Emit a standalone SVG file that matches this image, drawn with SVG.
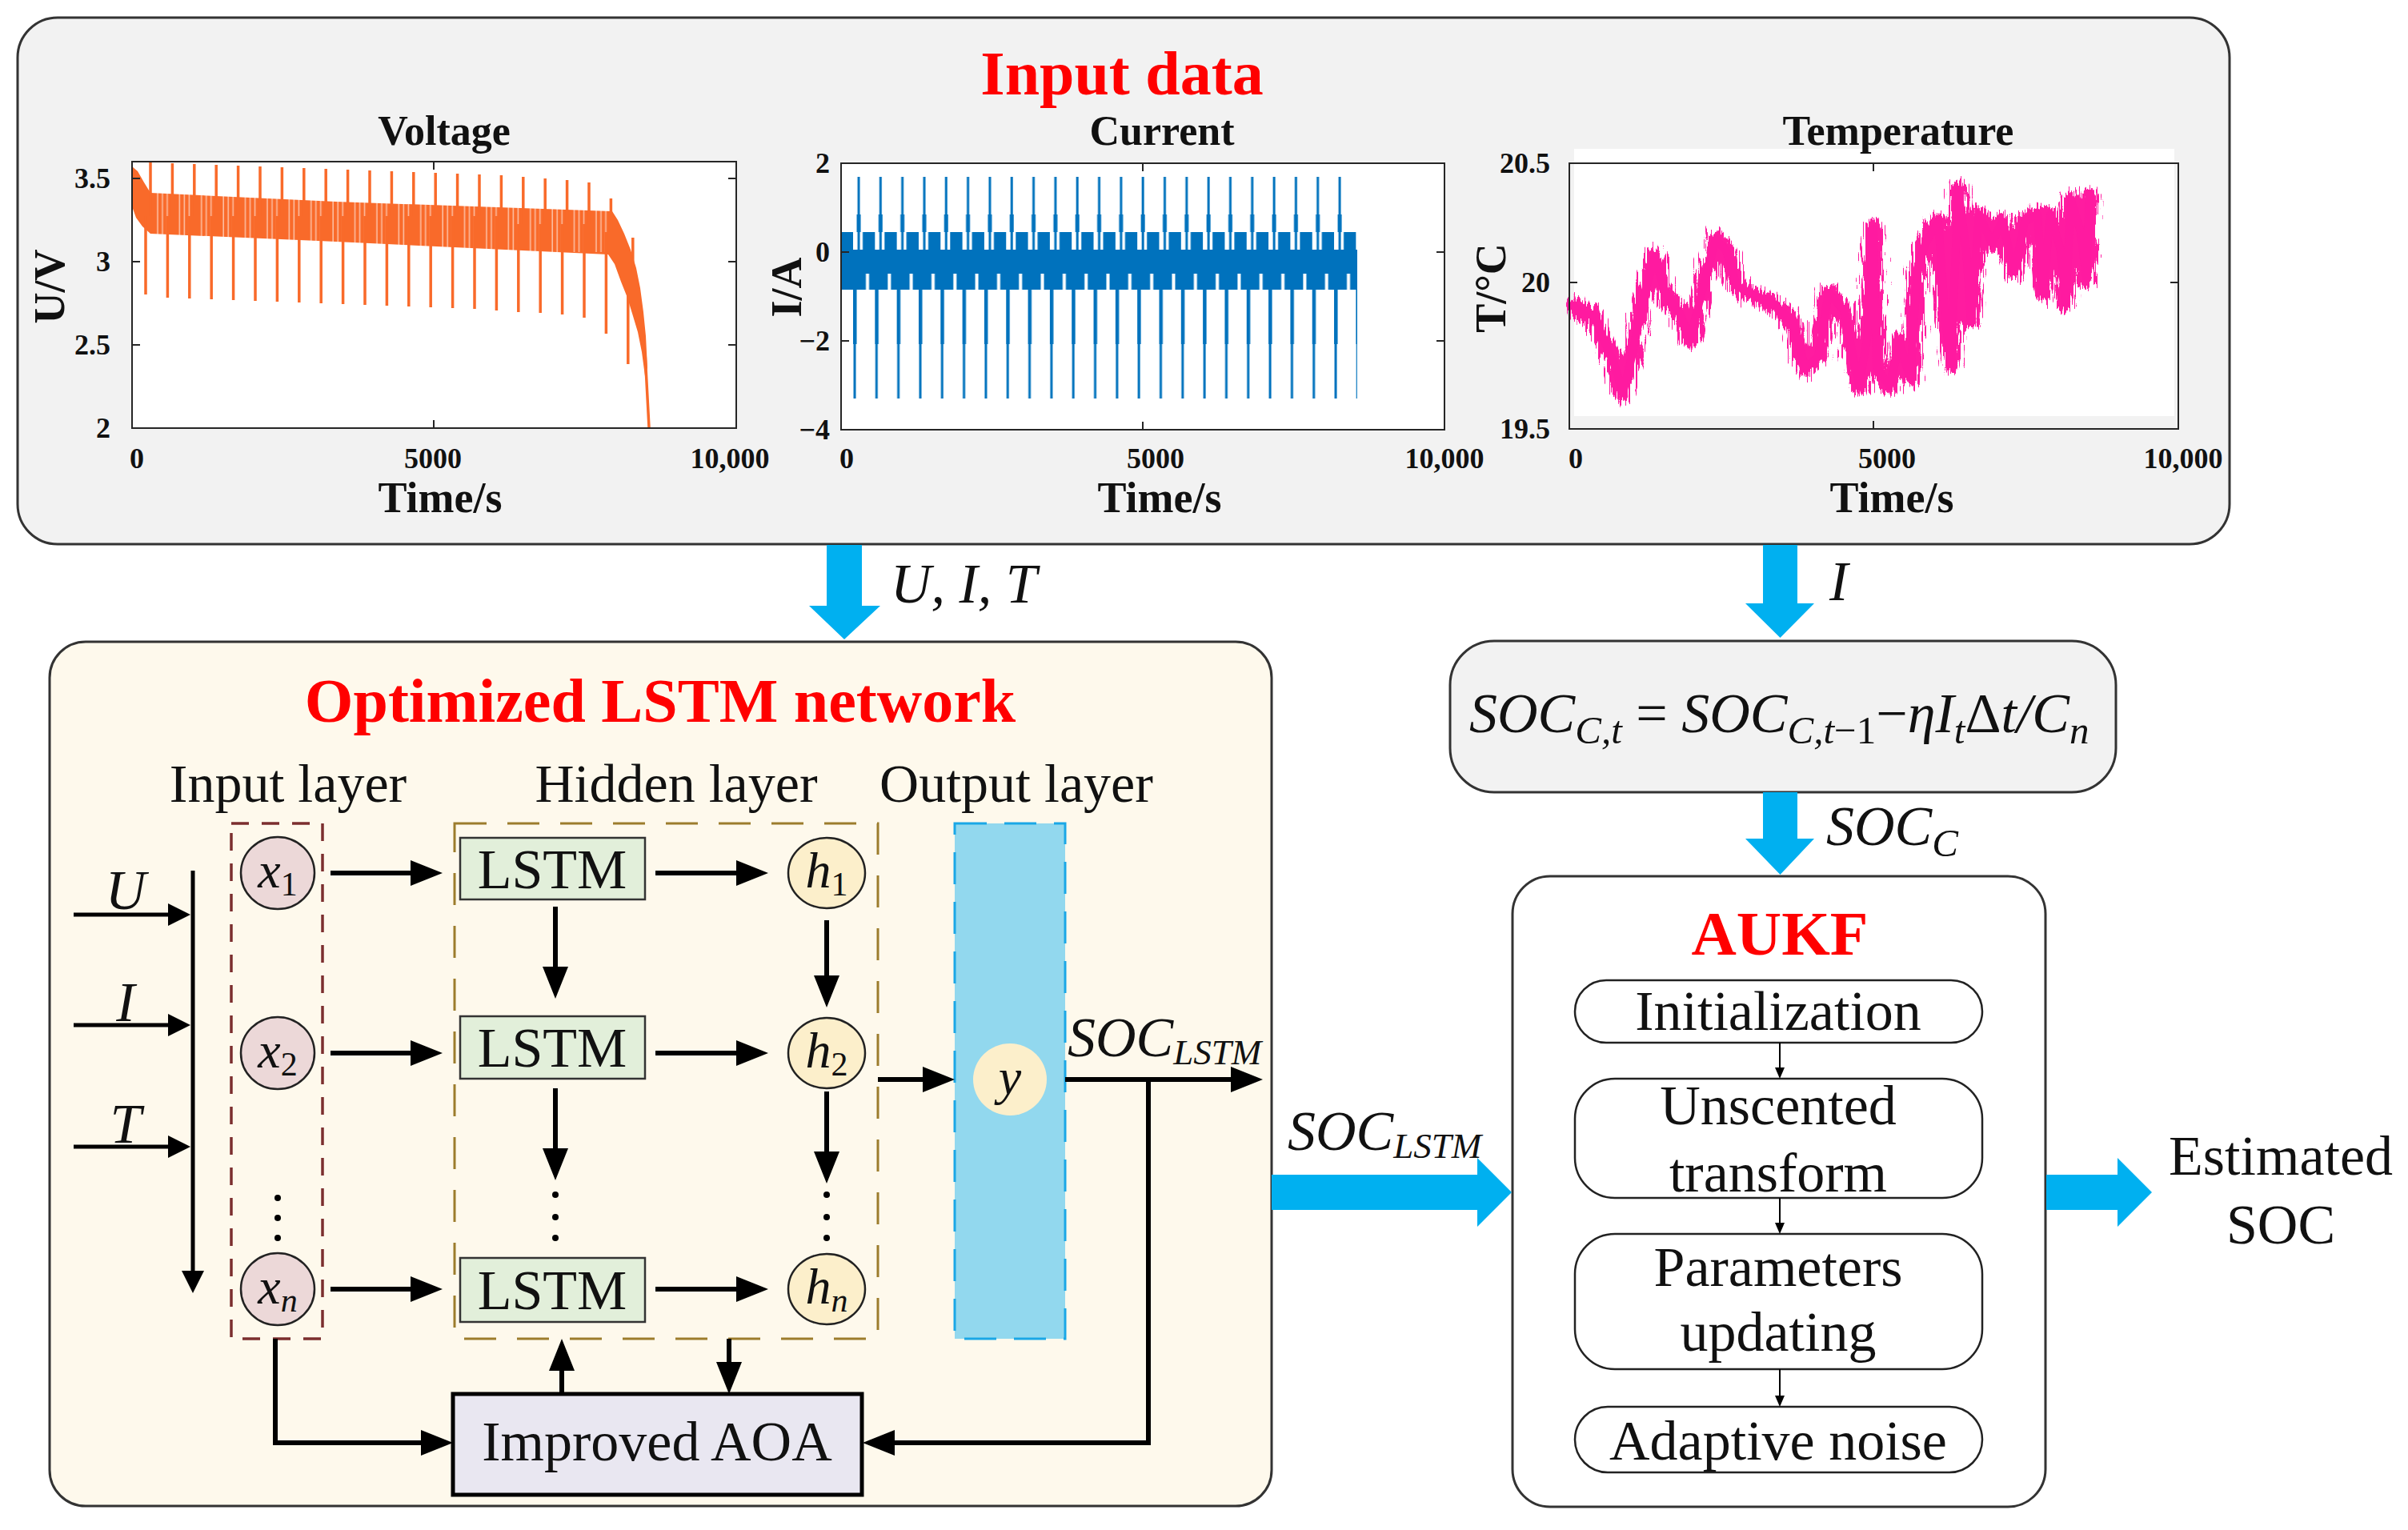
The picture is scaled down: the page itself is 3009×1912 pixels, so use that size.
<svg xmlns="http://www.w3.org/2000/svg" width="3009" height="1912" viewBox="0 0 3009 1912">
<defs>
<style>
text{font-family:"Liberation Serif","Times New Roman",serif;fill:#111}
.ttl{font-weight:bold;fill:#ff0000;font-size:78px;text-anchor:middle}
.pt{font-weight:bold;font-size:52px;text-anchor:middle}
.al{font-weight:bold;font-size:54px;text-anchor:middle}
.tk{font-weight:bold;font-size:36px;text-anchor:end}
.tx{font-weight:bold;font-size:36px;text-anchor:middle}
.lb{font-size:70px;text-anchor:middle}
.ly{font-size:68px;text-anchor:middle}
.it{font-size:70px;font-style:italic}
.nd{font-size:64px;font-style:italic;text-anchor:middle}
.sb{font-size:42px;font-style:normal}
.sbi{font-size:42px;font-style:italic}
.ax{fill:none;stroke:#262626;stroke-width:2}
.tick{stroke:#262626;stroke-width:2}
.big{fill:#00b0f0}
.arr{fill:none;stroke:#000;stroke-width:6;marker-end:url(#ah)}
.arrs{fill:none;stroke:#000;stroke-width:5;marker-end:url(#ahs)}
.arrt{fill:none;stroke:#000;stroke-width:2;marker-end:url(#aht)}
.lstm{fill:#e2efda;stroke:#333;stroke-width:2.5}
.xc{fill:#ecd8d8;stroke:#222;stroke-width:2.5}
.hc{fill:#fcefcb;stroke:#222;stroke-width:2.5}
.pill{fill:#fff;stroke:#222;stroke-width:2.5}
</style>
<marker id="ah" markerUnits="userSpaceOnUse" markerWidth="40" markerHeight="32" refX="30" refY="16" orient="auto"><path d="M0,0L40,16L0,32z" fill="#000"/></marker>
<marker id="ahs" markerUnits="userSpaceOnUse" markerWidth="28" markerHeight="28" refX="20" refY="14" orient="auto"><path d="M0,0L28,14L0,28z" fill="#000"/></marker>
<marker id="aht" markerUnits="userSpaceOnUse" markerWidth="14" markerHeight="12" refX="10" refY="6" orient="auto"><path d="M0,0L14,6L0,12z" fill="#000"/></marker>
<pattern id="cpat" x="1066" y="0" width="27.32" height="1912" patternUnits="userSpaceOnUse">
<rect x="0" y="290" width="27.32" height="72" fill="#0072bd"/>
<rect x="0" y="290" width="12" height="22" fill="#fff"/>
<rect x="16" y="342" width="4" height="20" fill="#fff"/>
<path d="M2,313V498M7,313V221" stroke="#0072bd" stroke-width="3"/>
<path d="M2,313V430M7,290V268" stroke="#0072bd" stroke-width="5"/>
</pattern>
<pattern id="vpat" x="188" y="0" width="27.4" height="1912" patternUnits="userSpaceOnUse">
<path d="M9,0V1912M15,0V1912M21,0V1912" stroke="#fff" stroke-width="1.6" stroke-opacity="0.55"/>
</pattern>
<filter id="jit" filterUnits="userSpaceOnUse" x="1955" y="190" width="680" height="340">
<feTurbulence type="fractalNoise" baseFrequency="0.45 0.03" numOctaves="2" seed="5" result="n"/>
<feDisplacementMap in="SourceGraphic" in2="n" scale="30" xChannelSelector="R" yChannelSelector="G"/>
</filter>
</defs>
<rect width="3009" height="1912" fill="#fff"/>

<g id="input-data">
<rect x="22" y="22" width="2764" height="658" rx="50" fill="#f2f2f2" stroke="#333" stroke-width="3"/>
<text class="ttl" x="1402" y="118">Input data</text>

<g id="plot-voltage">
<rect x="165" y="202" width="755" height="333" fill="#fff"/>
<polygon fill="#f96a2a" points="165,208 172,214 180,228 188,241 420,252 765,264 772,275 780,292 788,312 795,335 800,360 804,390 807,420 809,460 806,470 802,440 797,415 791,395 784,372 776,352 768,330 760,318 420,302 188,292 178,283 170,272 165,258"/>
<rect x="190" y="235" width="570" height="80" fill="url(#vpat)"/>
<path fill="none" stroke="#f96a2a" stroke-width="3.5" d="M188,270V202M182,270V368M215.4,270V204M209.4,270V372M242.8,270V205M236.8,270V373M270.2,270V206M264.2,270V374M297.6,270V207M291.6,270V375M325,270V208M319,270V376M352.4,270V209M346.4,270V377M379.8,270V210M373.8,270V378M407.2,270V211M401.2,270V379M434.6,270V212M428.6,270V380M462,270V213M456,270V381M489.4,270V214M483.4,270V382M516.8,270V215M510.8,270V383M544.2,270V216M538.2,270V384M571.6,270V217M565.6,270V385M599,270V218M593,270V386M626.4,270V219M620.4,270V388M653.8,280V221M647.8,280V390M681.2,280V223M675.2,280V391M708.6,280V225M702.6,280V393M736,280V228M730,280V397M763.4,290V248M757.4,290V417M790.8,340V297M784.8,340V455M806,440L811,534"/>
<rect class="ax" x="165" y="202" width="755" height="333"/>
<path class="tick" d="M165,223h10M165,327h10M165,431h10M920,223h-10M920,327h-10M920,431h-10M542,535v-10M542,202v10"/>
<text class="pt" x="555" y="181">Voltage</text>
<text class="tk" x="138" y="235">3.5</text>
<text class="tk" x="138" y="339">3</text>
<text class="tk" x="138" y="443">2.5</text>
<text class="tk" x="138" y="547">2</text>
<text class="tx" x="171" y="585">0</text>
<text class="tx" x="541" y="585">5000</text>
<text class="tx" x="912" y="585">10,000</text>
<text class="al" x="550" y="640">Time/s</text>
<text class="al" transform="translate(80,358) rotate(-90)">U/V</text>
</g>

<g id="plot-current">
<rect x="1051" y="204" width="754" height="333" fill="#fff"/>
<rect x="1052" y="290" width="14" height="72" fill="#0072bd"/>
<rect x="1064" y="215" width="632" height="290" fill="url(#cpat)"/>
<rect class="ax" x="1051" y="204" width="754" height="333"/>
<path class="tick" d="M1051,315h10M1051,426h10M1805,315h-10M1805,426h-10M1428,537v-10M1428,204v10"/>
<text class="pt" x="1452" y="181">Current</text>
<text class="tk" x="1037" y="216">2</text>
<text class="tk" x="1037" y="327">0</text>
<text class="tk" x="1037" y="438">−2</text>
<text class="tk" x="1037" y="549">−4</text>
<text class="tx" x="1058" y="585">0</text>
<text class="tx" x="1444" y="585">5000</text>
<text class="tx" x="1805" y="585">10,000</text>
<text class="al" x="1449" y="640">Time/s</text>
<text class="al" transform="translate(1001,359) rotate(-90)">I/A</text>
</g>

<g id="plot-temperature">
<rect x="1967" y="186" width="750" height="334" fill="#fff"/>
<polyline fill="none" stroke="#ff1aa0" stroke-width="22" stroke-linejoin="round" filter="url(#jit)" points="1961,379 1979,393 1991,393 2004,424 2017,455 2028,491 2039,446 2055,366 2068,321 2081,366 2100,393 2112,424 2125,371 2144,299 2157,313 2170,357 2195,371 2215,379 2240,402 2256,460 2272,446 2285,366 2304,388 2323,482 2333,424 2341,286 2345,460 2361,482 2374,429 2387,473 2396,335 2406,304 2422,277 2431,402 2438,455 2447,237 2457,313 2463,402 2473,268 2489,304 2502,277 2517,339 2530,277 2546,268 2553,366 2562,268 2575,313 2581,379 2588,250 2600,290 2607,348 2611,237"/>
<polyline fill="none" stroke="#ff1aa0" stroke-width="10" stroke-linejoin="round" points="1961,379 1979,393 1991,393 2004,424 2017,455 2028,491 2039,446 2055,366 2068,321 2081,366 2100,393 2112,424 2125,371 2144,299 2157,313 2170,357 2195,371 2215,379 2240,402 2256,460 2272,446 2285,366 2304,388 2323,482 2333,424 2341,286 2345,460 2361,482 2374,429 2387,473 2396,335 2406,304 2422,277 2431,402 2438,455 2447,237 2457,313 2463,402 2473,268 2489,304 2502,277 2517,339 2530,277 2546,268 2553,366 2562,268 2575,313 2581,379 2588,250 2600,290 2607,348 2611,237"/>
<rect class="ax" x="1961" y="204" width="761" height="332"/>
<path class="tick" d="M1961,353h10M2722,353h-10M2341,536v-10M2341,204v10"/>
<text class="pt" x="2372" y="181">Temperature</text>
<text class="tk" x="1937" y="216">20.5</text>
<text class="tk" x="1937" y="365">20</text>
<text class="tk" x="1937" y="548">19.5</text>
<text class="tx" x="1969" y="585">0</text>
<text class="tx" x="2358" y="585">5000</text>
<text class="tx" x="2728" y="585">10,000</text>
<text class="al" x="2364" y="640">Time/s</text>
<text class="al" transform="translate(1881,360) rotate(-90)">T/°C</text>
</g>
</g>

<g id="lstm-network">
<rect x="62" y="802" width="1527" height="1080" rx="45" fill="#fef9ec" stroke="#333" stroke-width="3"/>
<text class="ttl" x="825" y="902">Optimized LSTM network</text>
<text class="ly" x="360" y="1002">Input layer</text>
<text class="ly" x="845" y="1002">Hidden layer</text>
<text class="ly" x="1270" y="1002">Output layer</text>
<rect x="289" y="1029" width="114" height="644" fill="none" stroke="#7b2e2e" stroke-width="3.5" stroke-dasharray="22 16"/>
<rect x="568" y="1029" width="529" height="644" fill="none" stroke="#9c7c2c" stroke-width="3" stroke-dasharray="40 26"/>
<rect x="1193" y="1029" width="138" height="644" fill="#92d8ee" stroke="#1aa7e6" stroke-width="3" stroke-dasharray="40 22"/>
<text class="it" x="157" y="1136" text-anchor="middle">U</text>
<text class="it" x="157" y="1276" text-anchor="middle">I</text>
<text class="it" x="157" y="1428" text-anchor="middle">T</text>
</g>

<g id="node-x1"><ellipse class="xc" cx="347" cy="1091" rx="46" ry="45"/><text class="nd" x="347" y="1109">x<tspan class="sb" dy="10">1</tspan></text></g>
<g id="node-x2"><ellipse class="xc" cx="347" cy="1316" rx="46" ry="45"/><text class="nd" x="347" y="1334">x<tspan class="sb" dy="10">2</tspan></text></g>
<g id="node-xn"><ellipse class="xc" cx="347" cy="1611" rx="46" ry="45"/><text class="nd" x="347" y="1629">x<tspan class="sbi" dy="10">n</tspan></text></g>
<g id="dots-x" fill="#000"><circle cx="347" cy="1497" r="4"/><circle cx="347" cy="1522" r="4"/><circle cx="347" cy="1547" r="4"/></g>

<g id="node-lstm1"><rect class="lstm" x="575" y="1047" width="231" height="77"/><text class="lb" x="690" y="1110">LSTM</text></g>
<g id="node-lstm2"><rect class="lstm" x="575" y="1270" width="231" height="78"/><text class="lb" x="690" y="1333">LSTM</text></g>
<g id="node-lstmn"><rect class="lstm" x="575" y="1572" width="231" height="80"/><text class="lb" x="690" y="1636">LSTM</text></g>
<g id="dots-lstm" fill="#000"><circle cx="694" cy="1493" r="4"/><circle cx="694" cy="1521" r="4"/><circle cx="694" cy="1547" r="4"/></g>

<g id="node-h1"><ellipse class="hc" cx="1033" cy="1091" rx="48" ry="44"/><text class="nd" x="1033" y="1109">h<tspan class="sb" dy="10">1</tspan></text></g>
<g id="node-h2"><ellipse class="hc" cx="1033" cy="1316" rx="48" ry="44"/><text class="nd" x="1033" y="1334">h<tspan class="sb" dy="10">2</tspan></text></g>
<g id="node-hn"><ellipse class="hc" cx="1033" cy="1611" rx="48" ry="44"/><text class="nd" x="1033" y="1629">h<tspan class="sbi" dy="10">n</tspan></text></g>
<g id="dots-h" fill="#000"><circle cx="1033" cy="1493" r="4"/><circle cx="1033" cy="1521" r="4"/><circle cx="1033" cy="1547" r="4"/></g>

<g id="node-y"><ellipse cx="1262" cy="1349" rx="46" ry="45" fill="#fcefcb"/><text class="nd" x="1262" y="1367">y</text></g>

<g id="node-aoa"><rect x="566" y="1742" width="511" height="126" fill="#e9e7f1" stroke="#000" stroke-width="5"/><text class="lb" x="821" y="1825">Improved AOA</text></g>

<g id="node-socc-eq">
<rect x="1812" y="801" width="832" height="189" rx="55" fill="#f2f2f2" stroke="#333" stroke-width="3"/>
<text class="it" x="1836" y="915">SOC<tspan font-size="49" dy="14">C,t</tspan><tspan dy="-14" font-style="normal"> = </tspan>SOC<tspan font-size="49" dy="14">C,t<tspan font-style="normal">−1</tspan></tspan><tspan dy="-14" font-style="normal">−</tspan>ηI<tspan font-size="49" dy="14">t</tspan><tspan dy="-14" font-style="normal">Δ</tspan>t/C<tspan font-size="49" dy="14">n</tspan></text>
</g>

<g id="node-aukf">
<rect x="1890" y="1095" width="666" height="788" rx="47" fill="#fff" stroke="#333" stroke-width="3"/>
<text class="ttl" x="2224" y="1193">AUKF</text>
<rect class="pill" x="1968" y="1225" width="509" height="78" rx="39"/>
<text class="lb" x="2222" y="1287">Initialization</text>
<rect class="pill" x="1968" y="1348" width="509" height="149" rx="50"/>
<text class="lb" x="2222" y="1405">Unscented</text>
<text class="lb" x="2222" y="1489">transform</text>
<rect class="pill" x="1968" y="1542" width="509" height="169" rx="50"/>
<text class="lb" x="2222" y="1607">Parameters</text>
<text class="lb" x="2222" y="1688">updating</text>
<rect class="pill" x="1968" y="1758" width="509" height="82" rx="41"/>
<text class="lb" x="2222" y="1824">Adaptive noise</text>
</g>

<g id="node-estimated">
<text class="lb" x="2850" y="1468">Estimated</text>
<text class="lb" x="2850" y="1554">SOC</text>
</g>

<g id="connectors">
<polygon class="big" points="1033,681 1077,681 1077,757 1100,757 1055,799 1011,757 1033,757"/>
<text class="it" x="1113" y="753">U, I, T</text>
<polygon class="big" points="2203,681 2246,681 2246,754 2267,754 2224.5,797 2181,754 2203,754"/>
<text class="it" x="2286" y="750">I</text>
<polygon class="big" points="2203,990 2246,990 2246,1048 2267,1048 2224.5,1093 2181,1048 2203,1048"/>
<text class="it" x="2282" y="1056">SOC<tspan font-size="49" dy="14">C</tspan></text>
<polygon class="big" points="1589,1468 1846,1468 1846,1447 1889,1490 1846,1533 1846,1512 1589,1512"/>
<text class="it" x="1609" y="1437">SOC<tspan font-size="45" dy="10">LSTM</tspan></text>
<polygon class="big" points="2557,1468 2646,1468 2646,1447 2689,1490 2646,1533 2646,1512 2557,1512"/>

<path class="arrs" d="M92,1143H230"/>
<path class="arrs" d="M92,1281H230"/>
<path class="arrs" d="M92,1433H230"/>
<path class="arrs" d="M241,1088V1608"/>
<path class="arr" d="M413,1091H543"/>
<path class="arr" d="M413,1316H543"/>
<path class="arr" d="M413,1611H543"/>
<path class="arr" d="M819,1091H950"/>
<path class="arr" d="M819,1316H950"/>
<path class="arr" d="M819,1611H950"/>
<path class="arr" d="M694,1133V1238"/>
<path class="arr" d="M694,1360V1465"/>
<path class="arr" d="M1033,1150V1249"/>
<path class="arr" d="M1033,1364V1469"/>
<path class="arr" d="M1097,1349H1183"/>
<path class="arr" d="M1331,1349H1568"/>
<text class="it" x="1334" y="1320">SOC<tspan font-size="45" dy="10">LSTM</tspan></text>
<path class="arr" d="M1435,1349V1803H1088"/>
<path class="arr" d="M702,1742V1683"/>
<path class="arr" d="M911,1673V1732"/>
<path class="arr" d="M344,1673V1803H556"/>
<path class="arrt" d="M2224,1303V1344"/>
<path class="arrt" d="M2224,1497V1538"/>
<path class="arrt" d="M2224,1711V1754"/>
</g>
</svg>
